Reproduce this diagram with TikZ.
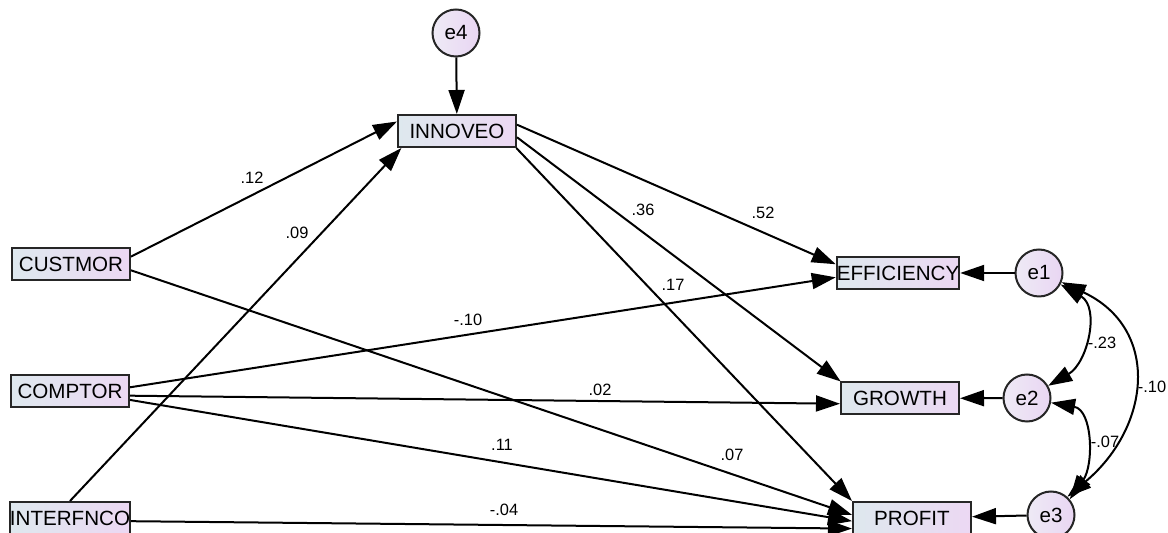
\documentclass[tikz,border=0pt]{standalone}
\usepackage{fontspec}
\setmainfont{Liberation Sans}
\usetikzlibrary{arrows.meta}
\definecolor{boxl}{RGB}{222,232,238}
\definecolor{boxr}{RGB}{236,216,243}
\definecolor{errl}{RGB}{238,234,245}
\definecolor{errr}{RGB}{233,214,243}
\tikzset{
  var/.style={draw=black!85, line width=1pt, left color=boxl, right color=boxr,
    minimum width=59pt, minimum height=16pt, inner xsep=0pt,
    font=\fontsize{10.3}{12}\selectfont},
  err/.style={draw=black!85, circle, line width=1pt, left color=errl, right color=errr,
    minimum size=23.5pt, inner sep=0pt, font=\fontsize{10.3}{12}\selectfont},
  coef/.style={font=\fontsize{8.2}{9}\selectfont, inner sep=0pt},
  arr/.style={line width=1pt, -{Triangle[length=12pt,width=8pt]}},
  cov/.style={line width=1pt, {Triangle[length=12pt,width=8pt]}-{Triangle[length=12pt,width=8pt]}}
}
\begin{document}
\begin{tikzpicture}[x=0.5pt,y=-0.5pt]
\useasboundingbox (0,0) rectangle (1168,533);
\node[err] (e4) at (456,33) {e4};
\node[var] (inno) at (457,131) {INNOVEO};
\node[var] (cust) at (71,264) {CUSTMOR};
\node[var] (comp) at (70,391.5) {COMPTOR};
\node[var] (intf) at (70,518) {INTERFNCO};
\node[var] (eff) at (898,273) {EFFICIENCY};
\node[var] (grow) at (900,398.5) {GROWTH};
\node[var] (prof) at (912,518) {PROFIT};
\node[err] (e1) at (1039,273) {e1};
\node[err] (e2) at (1027,398) {e2};
\node[err] (e3) at (1051,515) {e3};

\path[draw,arr] (e4) -- (inno);
\path[draw,arr] (cust.7) -- (inno.171);
\path[draw,arr] (intf.north) -- (inno.197);
\path[draw,arr] (inno.6) -- (eff.172);
\path[draw,arr] (inno.-6) -- (grow.164);
\path[draw,arr] (inno.-16) -- (prof.north west);
\path[draw,arr] (cust.-6) -- (prof.177);
\path[draw,arr] (comp.4) -- (eff.184);
\path[draw,arr] (comp.-4) -- (grow.185);
\path[draw,arr] (comp.-8) -- (prof.183);
\path[draw,arr] (intf.-3) -- (prof.190);
\path[draw,arr] (e1) -- (eff);
\path[draw,arr] (e2) -- (grow);
\path[draw,arr] (e3) -- (prof);

\path[draw,cov] (e1.-28) to[out=-30,in=30,looseness=1.15] (e2.30);
\path[draw,cov] (e2.-11) to[out=-10,in=55,looseness=1.1] (e3.40);
\path[draw,cov] (e1.-22) to[out=-25,in=40,looseness=1.3] (e3.48);

\node[coef] (c1) at (252,178) {.12};
\node[coef] (c2) at (297,233) {.09};
\node[coef] (c3) at (763,213) {.52};
\node[coef] (c4) at (643,210) {.36};
\node[coef] (c5) at (673,285) {.17};
\node[coef] (c6) at (468,320) {-.10};
\node[coef] (c7) at (600,390) {.02};
\node[coef] (c8) at (502,445) {.11};
\node[coef] (c9) at (732,455) {.07};
\node[coef] (c10) at (504,510) {-.04};
\node[coef] (c11) at (1102,343) {-.23};
\node[coef] (c12) at (1152,387) {-.10};
\node[coef] (c13) at (1105,442) {-.07};
\end{tikzpicture}
\end{document}
